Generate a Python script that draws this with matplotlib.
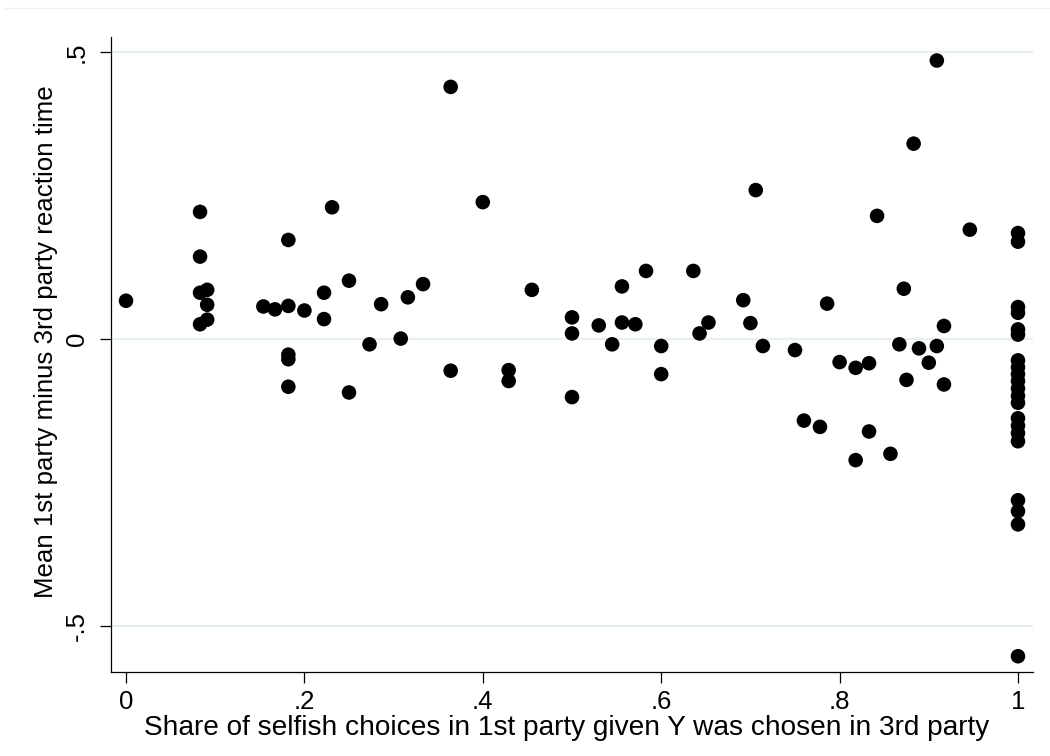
import matplotlib
matplotlib.use("Agg")
import matplotlib.pyplot as plt
from matplotlib.lines import Line2D

# Share of selfish choices in 1st party given Y was chosen in 3rd party
share = [
    0.0,
    0.083, 0.083, 0.083, 0.091, 0.091, 0.083, 0.091,
    0.182, 0.154, 0.167, 0.182, 0.2, 0.182, 0.182, 0.182,
    0.364, 0.231, 0.4, 0.222, 0.222, 0.25, 0.286, 0.316, 0.333, 0.273, 0.308, 0.364, 0.25,
    0.455, 0.429, 0.429, 0.5, 0.5, 0.5, 0.530, 0.545, 0.556, 0.556, 0.571, 0.583, 0.6, 0.6,
    0.636, 0.643, 0.653,
    0.706, 0.692, 0.7, 0.714, 0.75, 0.786, 0.8, 0.818, 0.833, 0.760, 0.778, 0.833, 0.818, 0.842,
    0.909, 0.883, 0.946, 0.872, 0.917, 0.867, 0.889, 0.909, 0.9, 0.875, 0.917, 0.857,
    1, 1, 1, 1, 1, 1,
    1, 1, 1, 1, 1, 1, 1,
    1, 1, 1, 1,
    1, 1, 1,
    1,
]
# Mean 1st party minus 3rd party reaction time
diff = [
    0.067,
    0.222, 0.144, 0.081, 0.086, 0.060, 0.026, 0.034,
    0.173, 0.057, 0.052, 0.058, 0.050, -0.027, -0.035, -0.083,
    0.440, 0.230, 0.239, 0.081, 0.035, 0.102, 0.061, 0.073, 0.096, -0.009, 0.001, -0.055, -0.093,
    0.086, -0.054, -0.073, 0.038, 0.010, -0.101, 0.024, -0.009, 0.092, 0.029, 0.026, 0.119, -0.012, -0.061,
    0.119, 0.010, 0.029,
    0.260, 0.068, 0.028, -0.012, -0.019, 0.062, -0.040, -0.050, -0.042, -0.142, -0.153, -0.161, -0.211, 0.215,
    0.486, 0.341, 0.191, 0.088, 0.023, -0.009, -0.016, -0.012, -0.041, -0.071, -0.079, -0.200,
    0.185, 0.170, 0.056, 0.046, 0.017, 0.008,
    -0.037, -0.049, -0.061, -0.073, -0.086, -0.099, -0.111,
    -0.138, -0.151, -0.164, -0.178,
    -0.281, -0.300, -0.323,
    -0.553,
]
xticks = [0, 0.2, 0.4, 0.6, 0.8, 1.0]
xticklabels = ["0", ".2", ".4", ".6", ".8", "1"]
yticks = [-0.5, 0, 0.5]
yticklabels = ["-.5", "0", ".5"]

plt.rcParams['font.family'] = ['Liberation Sans', 'DejaVu Sans']

fig = plt.figure(figsize=(10.5, 7.56), dpi=100)
ax = fig.add_axes([111/1050, 84/756, (1033-111)/1050, (672-37)/756])

for yv in yticks:
    ax.axhline(yv, color='#e8eff1', lw=1.6, zorder=0)

ax.scatter(share, diff, s=110, color='black', edgecolors='none', zorder=3)

ax.set_xlim(-15/891.5, 1 + 15/891.5)
ax.set_ylim(-0.5 - 0.0805, 0.527)

ax.set_xticks(xticks)
ax.set_xticklabels(xticklabels, fontsize=18.5)
ax.set_yticks(yticks)
ax.set_yticklabels(yticklabels, fontsize=18.5, rotation=90, va='center')

ax.tick_params(axis='x', direction='out', length=8, width=0.9, pad=5)
ax.tick_params(axis='y', direction='out', length=8, width=0.9, pad=8)

for s in ['top', 'right']:
    ax.spines[s].set_visible(False)
for s in ['left', 'bottom']:
    ax.spines[s].set_linewidth(0.9)
    ax.spines[s].set_color('black')

ax.set_xlabel("Share of selfish choices in 1st party given Y was chosen in 3rd party",
              fontsize=20.2, labelpad=0)
ax.set_ylabel("Mean 1st party minus 3rd party reaction time", fontsize=18.6, labelpad=3)
ax.xaxis.set_label_coords(0.4946, -0.068, transform=ax.transAxes)
ax.yaxis.set_label_coords(-0.0575, 0.52, transform=ax.transAxes)

fig.add_artist(Line2D([5/1050, 1], [1 - 8/756, 1 - 8/756], transform=fig.transFigure,
                      color='#eef2f3', lw=1))

fig.savefig("out.png", dpi=100, facecolor='white')
